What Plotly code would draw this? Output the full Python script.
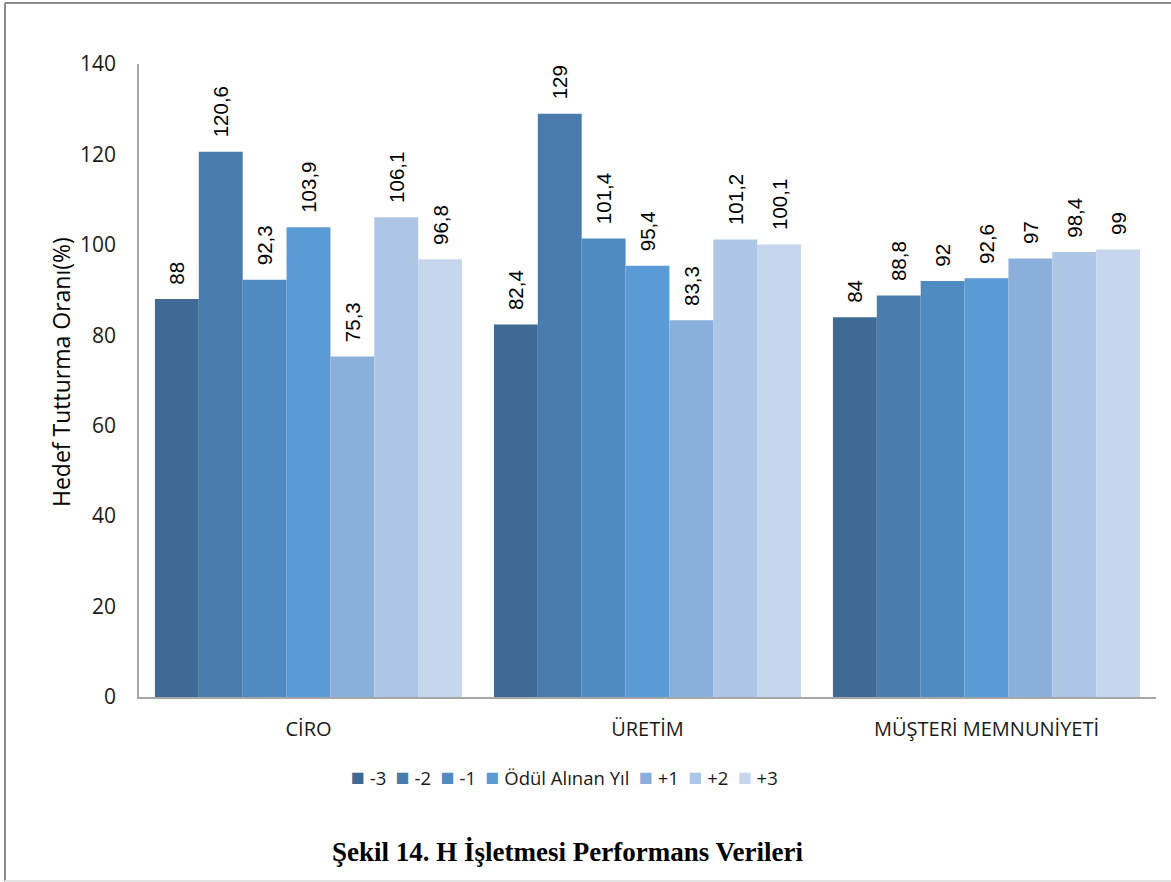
import plotly.graph_objects as go

# Performance indicators (categories on the x axis)
categories = ["CİRO", "ÜRETİM", "MÜŞTERİ MEMNUNİYETİ"]

# Years relative to the award year
series_names = ["-3", "-2", "-1", "Ödül Alınan Yıl", "+1", "+2", "+3"]

# Target achievement rate (%) per year, one list per series
vals_m3 = [88, 82.4, 84]
vals_m2 = [120.6, 129, 88.8]
vals_m1 = [92.3, 101.4, 92]
vals_award = [103.9, 95.4, 92.6]
vals_p1 = [75.3, 83.3, 97]
vals_p2 = [106.1, 101.2, 98.4]
vals_p3 = [96.8, 100.1, 99]

series_values = [vals_m3, vals_m2, vals_m1, vals_award, vals_p1, vals_p2, vals_p3]

colors = ["#3E6A95", "#497CAC", "#4F8BC1", "#5B9BD5", "#8BAFDB", "#ADC6E5", "#C6D6EC"]

# Y axis ticks
y_ticks = [0, 20, 40, 60, 80, 100, 120, 140]

UI_FONT = "Open Sans, Noto Sans, sans-serif"
NBSP = "\u00a0"


def fmt(v):
    # decimal comma, no trailing zeros
    return f"{v:g}".replace(".", ",")


fig = go.Figure()
for name, vals, col in zip(series_names, series_values, colors):
    fig.add_trace(go.Bar(
        x=categories,
        y=vals,
        name=name,
        marker=dict(color=col, line=dict(width=0)),
        text=[NBSP * 2 + fmt(v) for v in vals],
        textposition="outside",
        textangle=-90,
        constraintext="none",
        cliponaxis=False,
        textfont=dict(family="Liberation Sans, Arial, sans-serif", size=20.5, color="#000000"),
        showlegend=False,
    ))

# Geometry of the plotting area inside the 1171x882 page
L, R, T, B = 139, 15, 64, 185
W = 1171 - L - R
H = 882 - T - B


def px_x(p):
    return (p - L) / W


def px_y(p):
    return (882 - B - p) / H


# Compact legend line: coloured square followed by the series name
legend_parts = []
for name, col in zip(series_names, colors):
    legend_parts.append(
        f"<span style='color:{col};font-size:23px'>■</span>{NBSP}{name}"
    )
legend_text = (NBSP * 2).join(legend_parts)

grey = "#8C8C8C"
shapes = [
    # outer frame
    dict(type="line", xref="paper", yref="paper", x0=px_x(5), x1=px_x(5), y0=px_y(3), y1=px_y(881),
         line=dict(color=grey, width=2)),
    dict(type="line", xref="paper", yref="paper", x0=px_x(5), x1=px_x(1175), y0=px_y(3), y1=px_y(3),
         line=dict(color=grey, width=2)),
    dict(type="line", xref="paper", yref="paper", x0=px_x(5), x1=px_x(1175), y0=px_y(881), y1=px_y(881),
         line=dict(color="#E3E3E3", width=2)),
]

fig.update_layout(
    width=1171,
    height=882,
    margin=dict(l=L, r=R, t=T, b=B, autoexpand=False),
    paper_bgcolor="white",
    plot_bgcolor="white",
    barmode="group",
    bargap=0.094,
    bargroupgap=0,
    font=dict(family=UI_FONT, color="#1a1a1a"),
    showlegend=False,
    shapes=shapes,
    annotations=[
        dict(
            text=legend_text,
            xref="paper", yref="paper",
            x=px_x(564), y=px_y(776),
            xanchor="center", yanchor="middle",
            showarrow=False,
            font=dict(family=UI_FONT, size=18.5, color="#1a1a1a"),
        ),
        dict(
            text="<b>Şekil 14. H İşletmesi Performans Verileri</b>",
            xref="paper", yref="paper",
            x=px_x(567), y=px_y(852),
            xanchor="center", yanchor="middle",
            showarrow=False,
            font=dict(family="Liberation Serif, Times New Roman, serif", size=27, color="#000000"),
        ),
        dict(
            text="Hedef Tutturma Oranı(%)",
            xref="paper", yref="paper",
            x=px_x(61), y=px_y(372),
            xanchor="center", yanchor="middle",
            textangle=-90,
            showarrow=False,
            font=dict(family=UI_FONT, size=23, color="#000000"),
        ),
    ],
    xaxis=dict(
        showline=True, linecolor="#A6A6A6", linewidth=2,
        ticks="", showgrid=False,
        tickfont=dict(size=20, color="#1a1a1a"),
        ticklabelstandoff=13,
    ),
    yaxis=dict(
        range=[0, 140],
        tickvals=y_ticks,
        showline=True, linecolor="#A6A6A6", linewidth=1.5,
        ticks="", showgrid=False, zeroline=False,
        tickfont=dict(size=21, color="#1a1a1a"),
        ticklabelstandoff=17,
    ),
)

fig.write_html("out.html")
